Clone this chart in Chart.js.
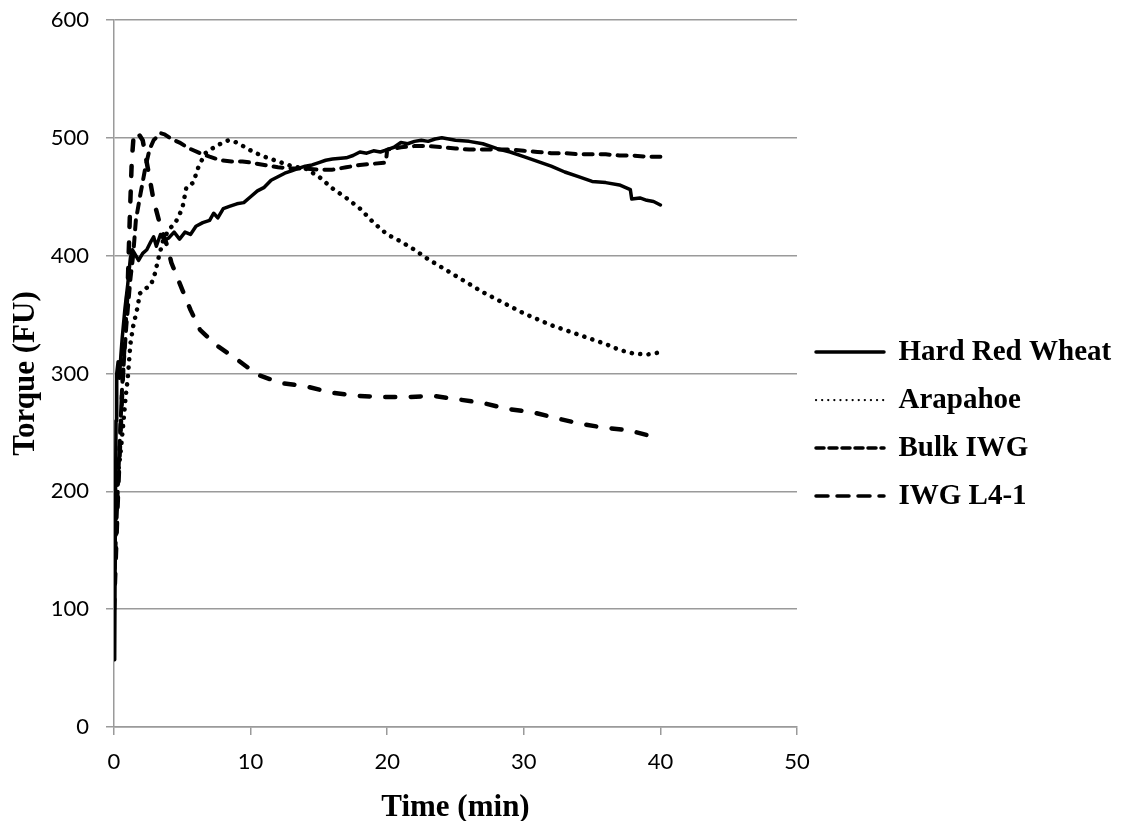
<!DOCTYPE html>
<html><head><meta charset="utf-8">
<style>html,body{margin:0;padding:0;background:#fff;}</style>
<script src="https://cdn.jsdelivr.net/npm/chart.js@4.4.1/dist/chart.umd.min.js"></script>
</head><body>
<canvas id="c" width="1121" height="821"></canvas>
<script>
// ---- data ----
const seriesNames = ['Hard Red Wheat', 'Arapahoe', 'Bulk IWG', 'IWG L4-1'];
const xTicks = [0, 10, 20, 30, 40, 50];
const yTicks = [0, 100, 200, 300, 400, 500, 600];

const hrwTime = [0.05,0.1,0.15,0.2,0.3,0.4,0.5,0.6,0.8,1.0,1.2,1.35,1.6,1.8,2.1,2.4,2.7,2.9,3.1,3.4,3.7,4.0,4.4,4.8,5.2,5.6,6.0,6.5,7.0,7.3,7.6,8.0,8.5,9.0,9.5,10,10.5,11,11.5,12,12.5,13,13.5,14,14.5,15,15.5,16,17,17.5,18,18.5,19,19.5,20,20.5,21,21.5,22,22.5,23,23.5,24,24.5,25,26,27,28,29,30,31,32,33,34,35,36,37,37.8,37.9,38.5,39,39.5,40];
const hrwTorque = [57,180,260,300,310,296,315,330,355,375,398,405,400,396,402,405,412,416,408,418,413,415,420,414,420,418,425,428,430,436,432,440,442,444,445,450,455,458,464,467,470,472,474,476,477,479,481,482,483,485,488,487,489,488,490,492,496,495,497,498,497,499,500,499,498,497,495,491,488,484,480,476,471,467,463,462,460,456,448,449,447,446,443];

const araTime = [0.1,0.3,0.5,0.7,0.85,1.0,1.2,1.4,1.7,1.9,2.3,2.7,3.0,3.3,3.6,4.0,4.5,5.0,5.3,5.8,6.2,6.7,7.2,7.8,8.4,9.0,9.6,10.2,11,12,13,14,15,16,17,18,19,20,21,22,23,24,25,26,27,28,29,30,31,32,33,34,35,36,37,38,39,40];
const araTorque = [170,215,235,260,280,295,325,340,355,368,372,375,385,400,413,422,428,440,458,462,476,487,491,495,498,496,492,488,484,480,476,474,467,457,449,440,428,418,412,405,397,390,383,376,369,363,357,351,346,341,337,333,329,325,320,317,316,318];

const bulkTime = [0,0.3,0.6,0.9,1.2,1.4,1.6,1.9,2.3,2.6,2.9,3.4,3.7,4.2,4.8,5.5,6.3,7.0,7.8,8.6,9.4,10,11,12,13,14,15,16,17,18,19,19.9,20.0,21,22,23,24,25,26,27,28,29,30,31,32,33,34,35,36,37,38,39,40];
const bulkTorque = [120,210,290,340,380,400,430,450,475,490,498,504,503,499,496,491,487,484,481,480,480,479,477,475,474,474,473,473,475,477,478,479,490,492,493,493,492,491,490,490,490,490,489,488,487,487,486,486,486,485,485,484,484];

const l41Time = [0,0.3,0.6,0.8,1.0,1.15,1.3,1.45,1.7,2.1,2.4,2.9,3.4,3.9,4.2,5.0,5.6,6.3,7.5,9.0,10.5,12.2,14.1,15.8,17.8,19.7,21.5,23.4,25.2,27.0,28.8,30.7,32.4,34.3,35.9,37.6,39.6,40];
const l41Torque = [100,200,285,335,372,430,480,504,505,498,479,447,425,408,394,371,354,337,324,312,299,292,289,284,281,280,280,281,278,275,270,267,262,257,254,252,246,246];

const pts = (t, v) => t.map((x, i) => ({x: x, y: v[i]}));

// ---- styles ----
const styles = [
  {borderWidth: 3.5, borderDash: [], cap: 'round', legendWidth: 3.5, legendDash: []},
  {borderWidth: 4.5, borderDash: [0.1, 8.3], cap: 'round', legendWidth: 2.2, legendDash: [0.1, 6]},
  {borderWidth: 4, borderDash: [9, 8], cap: 'round', legendWidth: 3.5, legendDash: [8, 5]},
  {borderWidth: 4.5, borderDash: [10, 15.5], cap: 'round', legendWidth: 3.5, legendDash: [12, 9]}
];
const seriesData = [pts(hrwTime, hrwTorque), pts(araTime, araTorque), pts(bulkTime, bulkTorque), pts(l41Time, l41Torque)];

const datasets = seriesNames.map((name, i) => ({
  label: name,
  data: seriesData[i],
  borderColor: '#000',
  backgroundColor: '#000',
  borderWidth: styles[i].borderWidth,
  borderDash: styles[i].borderDash,
  borderCapStyle: styles[i].cap,
  borderJoinStyle: 'round',
  pointRadius: 0,
  tension: 0,
  fill: false
}));

const serifFamily = '"Liberation Serif", "Times New Roman", serif';
const legendFont = {family: serifFamily, size: 29, weight: 'bold'};
const titleFont = {family: serifFamily, size: 31, weight: 'bold'};
const tickFont = {family: 'Lato, "Open Sans", sans-serif', size: 22};

new Chart(document.getElementById('c'), {
  type: 'line',
  data: {datasets: datasets},
  options: {
    responsive: false,
    animation: false,
    devicePixelRatio: 1,
    layout: {padding: {left: 0, right: 0, top: 20, bottom: 0}},
    plugins: {
      tooltip: {enabled: false},
      legend: {
        position: 'right',
        maxWidth: 324,
        title: {display: true, text: ' ', font: {size: 1}, padding: {top: 0, bottom: 6}},
        labels: {
          usePointStyle: true,
          pointStyle: 'line',
          pointStyleWidth: 68,
          padding: 19,
          color: '#000',
          font: legendFont,
          generateLabels: (chart) => chart.data.datasets.map((ds, i) => ({
            text: ds.label,
            fillStyle: '#000',
            strokeStyle: '#000',
            fontColor: '#000',
            lineWidth: styles[i].legendWidth,
            lineDash: styles[i].legendDash,
            lineCap: styles[i].cap,
            lineJoin: 'round',
            pointStyle: 'line',
            rotation: 0,
            hidden: false,
            datasetIndex: i
          }))
        }
      }
    },
    scales: {
      x: {
        type: 'linear',
        min: xTicks[0], max: xTicks[xTicks.length - 1],
        afterBuildTicks: (s) => { s.ticks = xTicks.map(v => ({value: v})); },
        afterFit: (s) => { s.height = 94; s.paddingTop = 0; },
        grid: {display: true, drawOnChartArea: false, drawTicks: true, tickLength: 8, color: '#9a9a9a', lineWidth: 1.5},
        border: {display: true, color: '#9a9a9a', width: 1.5},
        ticks: {font: tickFont, color: '#000', padding: 14, maxRotation: 0},
        title: {display: true, text: 'Time (min)', font: titleFont, color: '#000', padding: {top: 0, bottom: -6}}
      },
      y: {
        type: 'linear',
        min: yTicks[0], max: yTicks[yTicks.length - 1],
        afterBuildTicks: (s) => { s.ticks = yTicks.map(v => ({value: v})); },
        afterFit: (s) => { s.width = 114; s.paddingTop = 0; },
        grid: {display: true, drawOnChartArea: true, drawTicks: true, tickLength: 8, color: '#9a9a9a', lineWidth: 1.5},
        border: {display: true, color: '#9a9a9a', width: 1.5},
        ticks: {font: tickFont, color: '#000', padding: 17},
        title: {display: true, text: 'Torque (FU)', font: titleFont, color: '#000', padding: {top: 7.4, bottom: 0}}
      }
    }
  }
});
</script>
</body></html>
